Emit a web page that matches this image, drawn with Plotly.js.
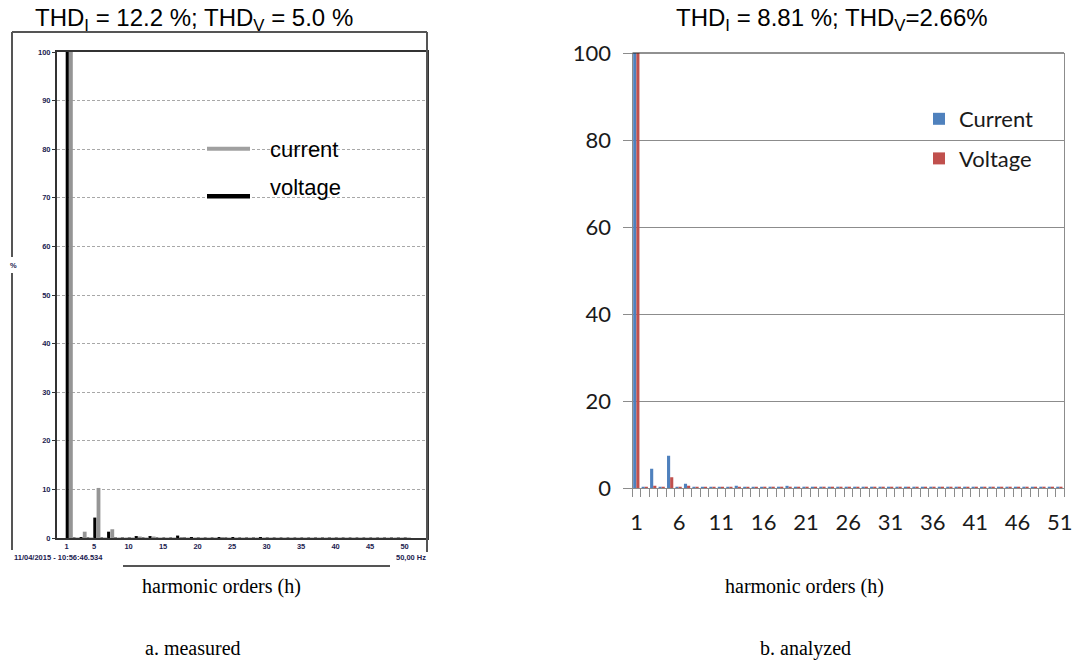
<!DOCTYPE html>
<html>
<head>
<meta charset="utf-8">
<script src="https://cdn.plot.ly/plotly-3.0.1.min.js"></script>
<style>
  html, body { margin: 0; padding: 0; background: #ffffff; }
  #chart { width: 1078px; height: 664px; }
</style>
</head>
<body>
<div id="chart"></div>
<script>
// Harmonic orders shown on the two spectra
const measuredOrders = [1, 2, 3, 4, 5, 6, 7, 8, 9, 10, 11, 12, 13, 14, 15, 16, 17, 18, 19, 20,
  21, 22, 23, 24, 25, 26, 27, 28, 29, 30, 31, 32, 33, 34, 35, 36, 37, 38, 39, 40,
  41, 42, 43, 44, 45, 46, 47, 48, 49, 50];
const analyzedOrders = [1, 2, 3, 4, 5, 6, 7, 8, 9, 10, 11, 12, 13, 14, 15, 16, 17, 18, 19, 20,
  21, 22, 23, 24, 25, 26, 27, 28, 29, 30, 31, 32, 33, 34, 35, 36, 37, 38, 39, 40,
  41, 42, 43, 44, 45, 46, 47, 48, 49, 50, 51];

// a. measured spectrum (% of fundamental)
const measuredCurrent = [100, 0.1, 1.3, 0.1, 10.3, 0.1, 1.8, 0.1, 0.1, 0.1, 0.3, 0.1, 0.3, 0.1, 0.1, 0.1, 0.2, 0.1, 0.1, 0.1,
  0.1, 0.1, 0.2, 0.1, 0.1, 0.1, 0.1, 0.1, 0.1, 0.1, 0.1, 0.1, 0.1, 0.1, 0.1, 0.1, 0.1, 0.1, 0.1, 0.1,
  0.1, 0.1, 0.1, 0.1, 0.1, 0.1, 0.1, 0.1, 0.1, 0.1];
const measuredVoltage = [100, 0.1, 0.2, 0.1, 4.2, 0.1, 1.3, 0.1, 0.1, 0.1, 0.4, 0.1, 0.4, 0.1, 0.1, 0.1, 0.5, 0.1, 0.2, 0.1,
  0.1, 0.1, 0.2, 0.1, 0.2, 0.1, 0.1, 0.1, 0.2, 0.1, 0.1, 0.1, 0.1, 0.1, 0.1, 0.1, 0.1, 0.1, 0.1, 0.1,
  0.1, 0.1, 0.1, 0.1, 0.1, 0.1, 0.1, 0.1, 0.1, 0.1];

// b. analyzed spectrum (% of fundamental)
const analyzedCurrent = [100, 0.3, 4.4, 0.3, 7.4, 0.3, 1.0, 0.3, 0.3, 0.3, 0.3, 0.3, 0.5, 0.3, 0.3, 0.3, 0.3, 0.3, 0.5, 0.3,
  0.3, 0.3, 0.3, 0.3, 0.3, 0.3, 0.3, 0.3, 0.3, 0.3, 0.3, 0.3, 0.3, 0.3, 0.3, 0.3, 0.3, 0.3, 0.3, 0.3,
  0.3, 0.3, 0.3, 0.3, 0.3, 0.3, 0.3, 0.3, 0.3, 0.3, 0.3];
const analyzedVoltage = [100, 0.3, 0.5, 0.3, 2.45, 0.3, 0.5, 0.3, 0.3, 0.3, 0.3, 0.3, 0.3, 0.3, 0.3, 0.3, 0.3, 0.3, 0.3, 0.3,
  0.3, 0.3, 0.3, 0.3, 0.3, 0.3, 0.3, 0.3, 0.3, 0.3, 0.3, 0.3, 0.3, 0.3, 0.3, 0.3, 0.3, 0.3, 0.3, 0.3,
  0.3, 0.3, 0.3, 0.3, 0.3, 0.3, 0.3, 0.3, 0.3, 0.3, 0.3];

// Tick labels
const measuredTicks = [1, 5, 10, 15, 20, 25, 30, 35, 40, 45, 50];
const measuredYTicks = [0, 10, 20, 30, 40, 50, 60, 70, 80, 90, 100];
const analyzedTicks = [1, 6, 11, 16, 21, 26, 31, 36, 41, 46, 51];
const analyzedYTicks = [0, 20, 40, 60, 80, 100];

const W = 1078, H = 664;
const px = x => x / W;          // pixel column -> paper x
const py = y => 1 - y / H;      // pixel row -> paper y

const ARIAL = 'Liberation Sans, Arial, sans-serif';
const TIMES = 'Liberation Serif, Times New Roman, serif';
const CALI = 'Lato, Open Sans, sans-serif';
const tiny = { family: ARIAL, size: 7.5, color: '#1c1c50', weight: 'bold' };

const traces = [
  { type: 'bar', name: 'voltage', x: measuredOrders, y: measuredVoltage, xaxis: 'x', yaxis: 'y',
    offset: -0.12, width: 0.45, marker: { color: '#000000', line: { width: 0 } }, showlegend: false, hoverinfo: 'x+y' },
  { type: 'bar', name: 'current', x: measuredOrders, y: measuredCurrent, xaxis: 'x', yaxis: 'y',
    offset: 0.36, width: 0.55, marker: { color: '#959595', line: { width: 0 } }, showlegend: false, hoverinfo: 'x+y' },
  { type: 'bar', name: 'Current', x: analyzedOrders, y: analyzedCurrent, xaxis: 'x2', yaxis: 'y2',
    offset: -0.42, width: 0.37, marker: { color: '#4F81BD', line: { width: 0 } }, legendgroup: 'c' },
  { type: 'bar', name: 'Voltage', x: analyzedOrders, y: analyzedVoltage, xaxis: 'x2', yaxis: 'y2',
    offset: -0.05, width: 0.37, marker: { color: '#C0504D', line: { width: 0 } }, legendgroup: 'v' }
];

const frame = { color: '#555555', width: 2 };
const shapes = [
  // instrument window frame around the measured spectrum
  { type: 'line', xref: 'paper', yref: 'paper', x0: px(12), x1: px(427), y0: py(32), y1: py(32), line: frame },
  { type: 'line', xref: 'paper', yref: 'paper', x0: px(12), x1: px(12), y0: py(32), y1: py(257), line: frame },
  { type: 'line', xref: 'paper', yref: 'paper', x0: px(12), x1: px(12), y0: py(273), y1: py(550), line: frame },
  { type: 'line', xref: 'paper', yref: 'paper', x0: px(427), x1: px(427), y0: py(32), y1: py(552), line: frame },
  { type: 'line', xref: 'paper', yref: 'paper', x0: px(123), x1: px(390), y0: py(566), y1: py(566), line: frame },
  // measured legend keys
  { type: 'line', xref: 'paper', yref: 'paper', x0: px(207), x1: px(250), y0: py(148.7), y1: py(148.7), line: { color: '#a0a0a0', width: 4 } },
  { type: 'line', xref: 'paper', yref: 'paper', x0: px(207), x1: px(250), y0: py(196.3), y1: py(196.3), line: { color: '#000000', width: 4.5 } },
  // dark top border of the analyzed chart
  { type: 'line', xref: 'x2 domain', yref: 'y2 domain', x0: 0, x1: 1, y0: 1, y1: 1, line: { color: '#222222', width: 1 } }
];

const ann = (text, x, y, font, xanchor) => ({
  text, x: px(x), y: py(y), xref: 'paper', yref: 'paper', showarrow: false,
  xanchor: xanchor || 'center', yanchor: 'middle', font
});

const annotations = [
  ann('THD<sub>I</sub> = 12.2 %; THD<sub>V</sub> = 5.0 %', 193.5, 19, { family: ARIAL, size: 24, color: '#000' }),
  ann('THD<sub>I</sub> = 8.81 %; THD<sub>V</sub>=2.66%', 832, 19, { family: ARIAL, size: 24, color: '#000' }),
  ann('current', 268, 149, { family: ARIAL, size: 22, color: '#000' }, 'left'),
  ann('voltage', 268, 188, { family: ARIAL, size: 22, color: '#000' }, 'left'),
  ann('%', 13, 265, tiny),
  ann('11/04/2015 - 10:56:46.534', 12, 557, tiny, 'left'),
  ann('50,00 Hz', 428, 557, tiny, 'right'),
  ann('harmonic orders (h)', 221, 586, { family: TIMES, size: 20, color: '#000' }),
  ann('harmonic orders (h)', 804, 586, { family: TIMES, size: 20, color: '#000' }),
  ann('a. measured', 193, 648, { family: TIMES, size: 20, color: '#000' }),
  ann('b. analyzed', 805, 648, { family: TIMES, size: 20, color: '#000' })
];

const layout = {
  width: W, height: H,
  margin: { l: 0, r: 0, t: 0, b: 0 },
  paper_bgcolor: '#ffffff', plot_bgcolor: 'rgba(0,0,0,0)',
  barmode: 'group',
  xaxis: {
    domain: [px(57), px(427)], anchor: 'y', range: [-0.38, 53.25],
    tickmode: 'array', tickvals: measuredTicks, ticktext: measuredTicks.map(String),
    tickfont: tiny, ticks: '', showgrid: false, zeroline: false,
    showline: true, mirror: true, linecolor: '#333333', linewidth: 2, fixedrange: true
  },
  yaxis: {
    domain: [py(538), py(52)], anchor: 'x', range: [0, 100],
    tickmode: 'array', tickvals: measuredYTicks, ticktext: measuredYTicks.map(String),
    tickfont: tiny, ticks: 'outside', ticklen: 3, tickcolor: '#333333',
    showgrid: true, gridcolor: '#a8a8a8', griddash: '3px,2px', gridwidth: 1,
    zeroline: false, showline: true, mirror: true, linecolor: '#333333', linewidth: 2, fixedrange: true
  },
  xaxis2: {
    domain: [px(632.5), px(1064)], anchor: 'y2', range: [0.5, 51.5],
    tickmode: 'array', tickvals: analyzedTicks, ticktext: analyzedTicks.map(String),
    tickfont: { family: CALI, size: 22, color: '#1a1a1a' }, ticks: '', ticklabelstandoff: 15,
    minor: { tickmode: 'linear', tick0: 0.5, dtick: 1, ticks: 'outside', ticklen: 8, tickcolor: '#8c8c8c', tickwidth: 1, showgrid: false },
    showgrid: false, zeroline: false, showline: true, linecolor: '#8c8c8c', linewidth: 1, fixedrange: true
  },
  yaxis2: {
    domain: [py(488), py(53)], anchor: 'x2', range: [0, 100],
    tickmode: 'array', tickvals: analyzedYTicks, ticktext: analyzedYTicks.map(String),
    tickfont: { family: CALI, size: 22, color: '#1a1a1a' }, ticks: 'outside', ticklen: 9,
    tickcolor: '#8c8c8c', ticklabelstandoff: 7,
    showgrid: true, gridcolor: '#8c8c8c', gridwidth: 1,
    zeroline: false, showline: true, mirror: true, linecolor: '#8c8c8c', linewidth: 1, fixedrange: true
  },
  legend: {
    x: px(919), y: py(98), xanchor: 'left', yanchor: 'top',
    bgcolor: 'rgba(0,0,0,0)', borderwidth: 0,
    font: { family: CALI, size: 22, color: '#1a1a1a' },
    traceorder: 'grouped', tracegroupgap: 8, itemwidth: 30
  },
  shapes, annotations
};

Plotly.newPlot('chart', traces, layout, { staticPlot: true, displayModeBar: false });
</script>
</body>
</html>
